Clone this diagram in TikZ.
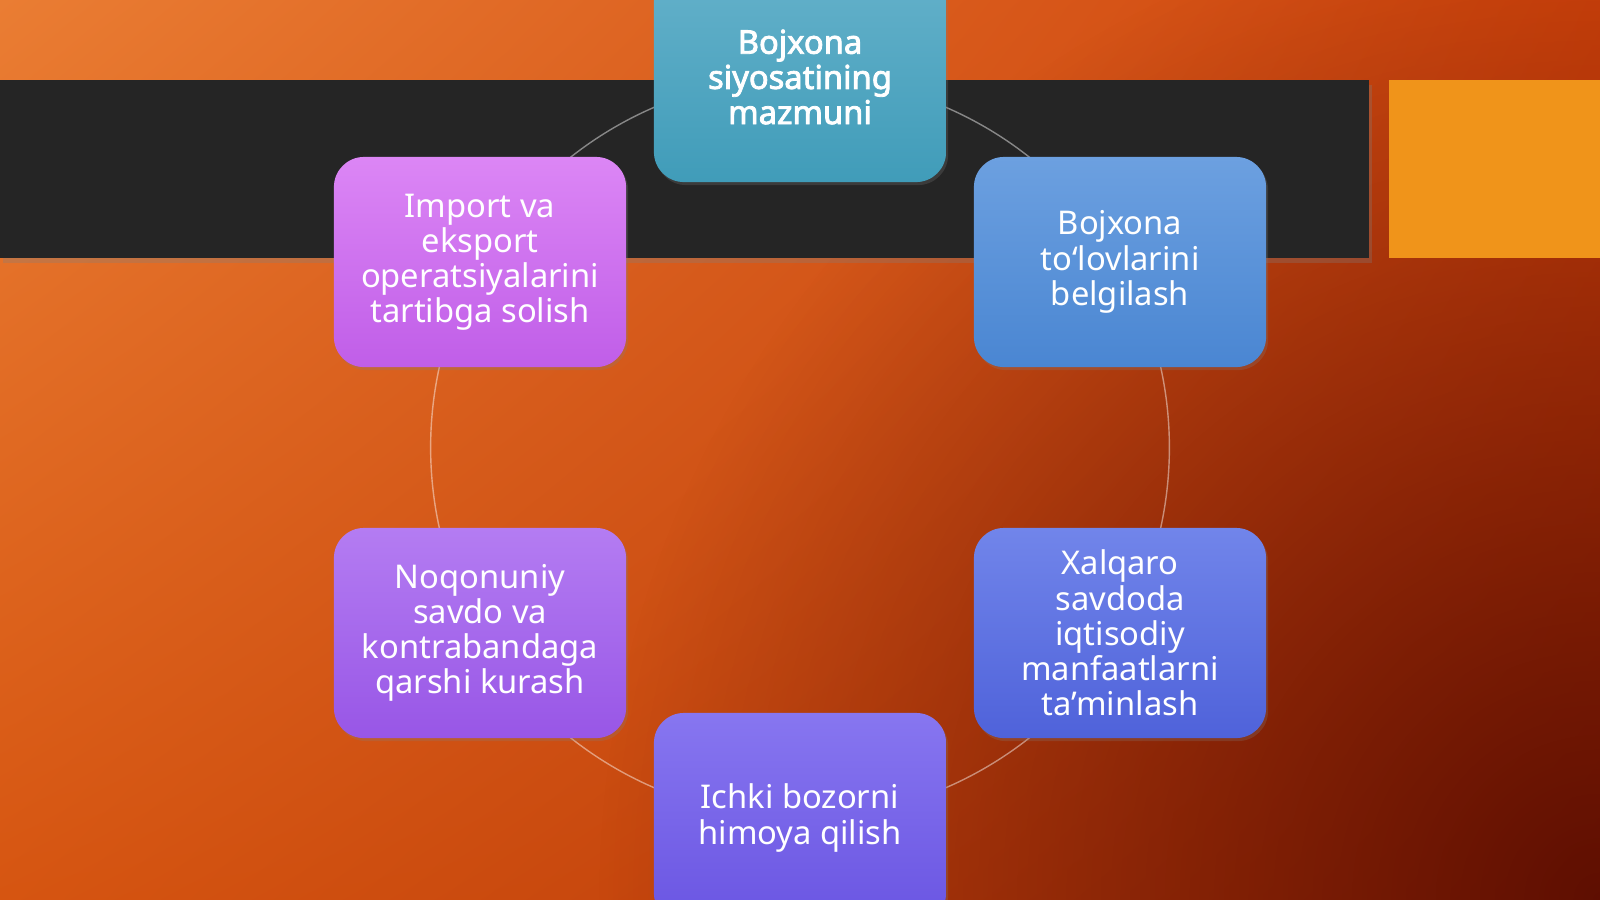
\documentclass[tikz,border=0pt]{standalone}
\usepackage{fontspec}
\setmainfont{Noto Sans}[AutoFakeBold=2.5]
\usepackage{tikz}
\usetikzlibrary{shadows,fadings,shadings}
\pgfdeclarelayer{back}
\pgfdeclarelayer{mid}
\pgfsetlayers{back,mid,main}
\definecolor{bgUL}{HTML}{EA7D33}
\definecolor{bgUR}{HTML}{CD420B}
\definecolor{bgLL}{HTML}{D65511}
\definecolor{bgLR}{HTML}{B03208}
\definecolor{bgDark}{HTML}{4A0600}
\definecolor{band}{HTML}{252525}
\definecolor{accent}{HTML}{F0941A}
\tikzfading[name=cornerFade, inner color=transparent!20, outer color=transparent!100]
\tikzstyle{box}=[rectangle, rounded corners=0.3cm, minimum width=2.92cm, minimum height=2.1cm, inner sep=0pt, align=center, text=white, font=\fontsize{9.3}{10}\selectfont, drop shadow={opacity=0.25, shadow xshift=0.02cm, shadow yshift=-0.03cm}]
\tikzstyle{tealBox}=[box, top color={rgb,255:red,100;green,177;blue,202}, bottom color={rgb,255:red,64;green,156;blue,185}, font=\fontsize{9.3}{10}\selectfont\bfseries]
\tikzstyle{skyBox}=[box, top color={rgb,255:red,108;green,160;blue,224}, bottom color={rgb,255:red,74;green,134;blue,210}]
\tikzstyle{indigoBox}=[box, top color={rgb,255:red,113;green,133;blue,234}, bottom color={rgb,255:red,79;green,98;blue,218}]
\tikzstyle{violetBox}=[box, top color={rgb,255:red,135;green,118;blue,240}, bottom color={rgb,255:red,106;green,85;blue,226}]
\tikzstyle{purpleBox}=[box, top color={rgb,255:red,180;green,124;blue,242}, bottom color={rgb,255:red,152;green,86;blue,230}]
\tikzstyle{pinkBox}=[box, top color={rgb,255:red,220;green,134;blue,245}, bottom color={rgb,255:red,192;green,94;blue,232}]
\tikzstyle{ring}=[white, opacity=0.45, line width=0.4pt, bend left=30, looseness=0.91]

\begin{document}
\begin{tikzpicture}[x=0.01cm, y=-0.01cm]
      \useasboundingbox (0,0) rectangle (1600,899);
      %%%%%%%%%%%% Fon
      \begin{pgfonlayer}{back}
        \clip (0,0) rectangle (1600,899);
        \shade[upper left=bgUL, upper right=bgUR, lower left=bgLL, lower right=bgLR] (0,0) rectangle (1600,899);
        \fill[bgDark, path fading=cornerFade] (1600,899) circle[radius=10cm];
        \fill[band, drop shadow={opacity=0.3, shadow xshift=0.03cm, shadow yshift=-0.05cm}] (0,80) rectangle (1369,258);
        \fill[accent] (1389,80) rectangle (1600,258);
      \end{pgfonlayer}
      %%%%%%%%%%%% Bloklar
      \node(0) [tealBox] at (800,77){Bojxona\\siyosatining\\mazmuni};
      \node(1) [skyBox] at (1120,262){Bojxona\\to‘lovlarini\\belgilash};
      \node(2) [indigoBox] at (1120,633){Xalqaro\\savdoda\\iqtisodiy\\manfaatlarni\\ta’minlash};
      \node(3) [violetBox] at (800,818){Ichki bozorni\\himoya qilish};
      \node(4) [purpleBox] at (480,633){Noqonuniy\\savdo va\\kontrabandaga\\qarshi kurash};
      \node(5) [pinkBox] at (480,262){Import va\\eksport\\operatsiyalarini\\tartibga solish};
      %%%%%%%%%%%% Aylana
      \begin{pgfonlayer}{mid}
        \draw[ring] (0.center) to (1.center);
        \draw[ring] (1.center) to (2.center);
        \draw[ring] (2.center) to (3.center);
        \draw[ring] (3.center) to (4.center);
        \draw[ring] (4.center) to (5.center);
        \draw[ring] (5.center) to (0.center);
      \end{pgfonlayer}
\end{tikzpicture}
\end{document}
